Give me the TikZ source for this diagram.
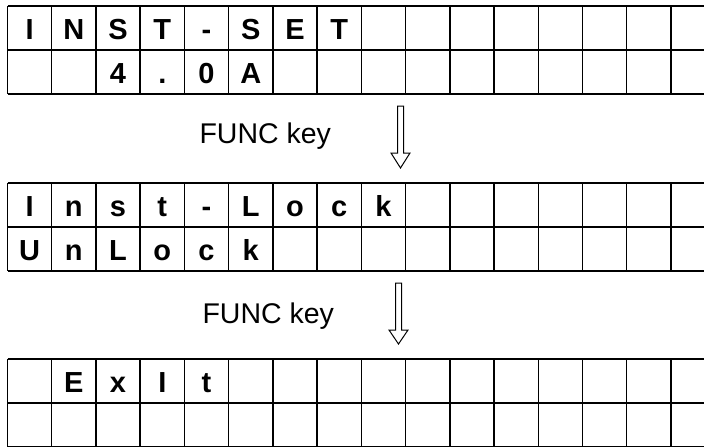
\documentclass[tikz,border=0pt]{standalone}
\usepackage{fontspec}
\setmainfont{Liberation Sans}
\begin{document}
\begin{tikzpicture}[x=1pt,y=-1pt,
    gridline/.style={line width=1.4pt},
    lcd/.style={anchor=base,font=\fontsize{29}{29}\selectfont\bfseries},
    keytext/.style={anchor=base west,font=\fontsize{28.5}{28.5}\selectfont},
    keyarrow/.style={line width=1pt,fill=white}]
  \useasboundingbox (0,0) rectangle (704,447);
  % the three displays
  \foreach \t in {6,183,359} {
    \foreach \r in {0,44,88}
      \draw[gridline] (7.5,\t+\r) -- (720,\t+\r);
    \foreach \c in {0,...,16}
      \draw[gridline] (7.5+44.23*\c,\t) -- (7.5+44.23*\c,\t+88);
  }
  % first display
  \foreach \ch [count=\i from 0] in {I,N,S,T,-,S,E,T}
    \node[lcd] (set-a-\i) at (29.6+44.23*\i,39.5) {\ch};
  \foreach \ch [count=\i from 2] in {4,.,0,A}
    \node[lcd] (set-b-\i) at (29.6+44.23*\i,83.5) {\ch};
  % second display
  \foreach \ch [count=\i from 0] in {I,n,s,t,-,L,o,c,k}
    \node[lcd] (lock-a-\i) at (29.6+44.23*\i,216.5) {\ch};
  \foreach \ch [count=\i from 0] in {U,n,L,o,c,k}
    \node[lcd] (lock-b-\i) at (29.6+44.23*\i,260.5) {\ch};
  % third display
  \foreach \ch [count=\i from 1] in {E,x,I,t}
    \node[lcd] (exit-a-\i) at (29.6+44.23*\i,392.5) {\ch};
  % key presses
  \node[keytext] (key-a) at (196,143) {FUNC key};
  \node[keytext] (key-b) at (199,323) {FUNC key};
  \draw[keyarrow] (397.5,106) -- ++(6,0) -- ++(0,47) -- ++(6.5,0) -- ++(-9.5,15)
    -- ++(-9.5,-15) -- ++(6.5,0) -- cycle;
  \draw[keyarrow] (395.5,283) -- ++(6,0) -- ++(0,47) -- ++(6.5,0) -- ++(-9.5,14)
    -- ++(-9.5,-14) -- ++(6.5,0) -- cycle;
\end{tikzpicture}
\end{document}
